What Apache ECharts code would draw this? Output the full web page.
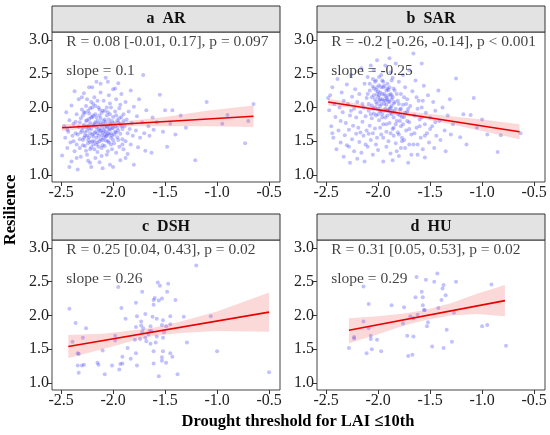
<!DOCTYPE html>
<html>
<head>
<meta charset="utf-8">
<script src="https://cdn.jsdelivr.net/npm/echarts@6/dist/echarts.min.js"></script>
<style>
  html, body { margin: 0; padding: 0; background: #fff; }
  #chart { width: 550px; height: 435px; }
</style>
</head>
<body>
<div id="chart"></div>
<script>
// 面板标题与统计标注
const panelNames = ['a  AR', 'b  SAR', 'c  DSH', 'd  HU'];
const statLabels = [
  'R = 0.08 [-0.01, 0.17], p = 0.097',
  'R = -0.2 [-0.26, -0.14], p < 0.001',
  'R = 0.25 [0.04, 0.43], p = 0.02',
  'R = 0.31 [0.05, 0.53], p = 0.02'
];
const slopeLabels = ['slope = 0.1', 'slope = -0.25', 'slope = 0.26', 'slope = 0.29'];
const xTicks = [-2.5, -2, -1.5, -1, -0.5];
const yTicks = [1, 1.5, 2, 2.5, 3];

// 散点 [干旱阈值, 恢复力]
const pointsAR = [
  [-2.49,1.29],[-2.47,1.72],[-2.46,1.55],[-2.45,1.93],[-2.44,1.40],[-2.43,1.64],[-2.42,1.81],[-2.41,1.48],[-2.40,1.20],[-2.40,2.03],[-2.42,1.12],[-2.44,1.67],
  [-2.39,1.58],[-2.38,1.76],[-2.37,1.35],[-2.37,2.24],[-2.36,1.62],[-2.35,1.90],[-2.35,1.45],[-2.34,1.08],[-2.33,1.71],[-2.33,2.12],[-2.32,1.53],[-2.31,1.84],[-2.31,1.27],[-2.30,1.66],[-2.30,1.97],[-2.32,1.40],[-2.36,1.79],[-2.38,1.50],
  [-2.29,1.52],[-2.29,1.88],[-2.28,1.74],[-2.28,2.21],[-2.27,1.43],[-2.27,1.63],[-2.26,2.02],[-2.26,1.36],[-2.25,1.58],[-2.25,1.81],[-2.24,1.21],[-2.24,1.95],[-2.23,1.69],[-2.23,2.30],[-2.22,1.49],[-2.22,1.77],[-2.21,1.12],[-2.21,2.08],[-2.20,1.60],[-2.20,1.86],[-2.28,1.55],[-2.26,1.71],[-2.24,1.52],[-2.22,1.99],[-2.21,1.41],[-2.27,1.92],[-2.25,1.30],[-2.23,1.83],
  [-2.19,1.73],[-2.19,1.45],[-2.18,2.15],[-2.18,1.62],[-2.17,1.90],[-2.17,1.25],[-2.16,1.55],[-2.16,2.38],[-2.15,1.80],[-2.15,1.34],[-2.14,1.68],[-2.14,2.00],[-2.13,1.50],[-2.13,1.19],[-2.12,1.84],[-2.12,2.22],[-2.11,1.59],[-2.11,1.40],[-2.10,1.75],[-2.10,1.95],[-2.18,1.38],[-2.16,1.70],[-2.14,1.58],[-2.12,1.65],[-2.19,2.05],[-2.15,1.48],[-2.13,1.88],[-2.11,1.28],[-2.17,1.78],[-2.10,1.52],
  [-2.09,1.66],[-2.09,2.10],[-2.08,1.43],[-2.08,1.82],[-2.07,1.57],[-2.07,2.44],[-2.06,1.71],[-2.06,1.30],[-2.05,1.93],[-2.05,1.62],[-2.04,1.48],[-2.04,2.18],[-2.03,1.77],[-2.03,1.15],[-2.02,1.55],[-2.02,2.00],[-2.01,1.69],[-2.01,1.38],[-2.00,1.86],[-2.00,2.27],[-2.08,1.60],[-2.06,1.88],[-2.04,1.67],[-2.02,1.74],[-2.05,1.35],[-2.03,2.06],[-2.07,1.51],
  [-1.99,1.60],[-1.99,1.47],[-1.98,1.94],[-1.98,1.72],[-1.97,2.12],[-1.97,1.33],[-1.96,1.81],[-1.96,1.56],[-1.95,2.36],[-1.95,1.66],[-1.94,1.42],[-1.94,1.99],[-1.93,1.75],[-1.93,1.22],[-1.92,1.86],[-1.92,2.20],[-1.91,1.53],[-1.91,1.68],[-1.90,1.90],[-1.90,1.38],[-1.97,1.63],[-1.95,1.78],[-1.93,2.04],
  [-1.89,1.72],[-1.88,1.50],[-1.88,2.08],[-1.87,1.82],[-1.86,1.62],[-1.86,1.31],[-1.85,1.94],[-1.84,1.68],[-1.83,2.25],[-1.83,1.45],[-1.82,1.77],[-1.81,1.58],[-1.80,1.15],[-1.80,2.01],
  [-1.78,1.66],[-1.77,1.87],[-1.76,1.41],[-1.75,2.12],[-1.74,1.55],[-1.72,1.78],[-1.71,2.48],[-1.70,1.62],[-1.69,1.36],[-1.68,1.96],[-1.66,1.72],[-1.65,1.58],[-1.63,1.33],[-1.62,1.85],[-1.61,1.67],
  [-1.58,1.78],[-1.55,2.19],[-1.52,1.64],[-1.50,1.96],[-1.48,1.42],[-1.45,1.76],[-1.43,1.96],[-1.40,1.60],[-1.35,1.88],[-1.21,1.22],[-1.10,2.08],[-0.90,1.89],[-0.95,1.76],[-0.73,1.47],[-0.70,1.80],[-0.65,2.05],[-1.30,1.70],
  [-2.34,1.60],[-2.32,1.78],[-2.31,1.63],[-2.29,1.70],[-2.29,1.44],[-2.28,1.93],[-2.27,1.58],[-2.26,1.80],[-2.25,1.66],[-2.25,2.12],[-2.24,1.47],[-2.24,1.72],[-2.23,1.56],[-2.23,1.91],[-2.22,1.62],[-2.22,1.38],[-2.21,1.85],[-2.21,1.68],[-2.20,1.50],[-2.20,2.00],
  [-2.19,1.57],[-2.19,1.88],[-2.18,1.76],[-2.18,1.50],[-2.17,1.64],[-2.17,2.02],[-2.16,1.45],[-2.16,1.85],[-2.15,1.62],[-2.15,2.10],[-2.14,1.75],[-2.14,1.42],[-2.13,1.66],[-2.13,1.97],[-2.12,1.53],[-2.12,1.78],[-2.11,1.70],[-2.11,1.92],[-2.10,1.63],[-2.10,1.44],
  [-2.09,1.55],[-2.09,1.80],[-2.08,1.70],[-2.08,1.95],[-2.07,1.64],[-2.07,1.78],[-2.06,1.58],[-2.06,2.00],[-2.05,1.72],[-2.05,1.50],[-2.04,1.82],[-2.04,1.60],[-2.03,1.68],[-2.03,1.90],[-2.02,1.62],[-2.02,1.45],[-2.01,1.80],[-2.01,1.58],[-2.00,1.70],[-2.00,1.52],
  [-1.99,1.77],[-1.98,1.64],[-1.97,1.88],[-1.96,1.70],[-1.95,1.52],[-1.94,1.84],[-1.93,1.61],[-1.92,1.72],[-1.91,1.45],[-1.90,1.80],
  [-2.20,2.30],[-2.12,2.35],[-2.05,2.38],[-1.98,2.28],[-2.30,2.15],[-2.10,1.10],[-2.00,1.12],[-2.22,1.18],[-1.88,1.25],[-2.35,1.25]
];
const pointsSAR = [
  [-2.48,2.14],[-2.47,1.96],[-2.46,2.18],[-2.45,1.72],[-2.44,2.30],[-2.43,1.55],[-2.42,2.05],[-2.41,1.86],[-2.40,1.38],[-2.39,2.42],[-2.38,1.66],[-2.37,2.00],[-2.36,1.48],[-2.35,2.22],[-2.36,1.80],[-2.44,1.62],
  [-2.34,1.93],[-2.33,1.27],[-2.33,2.10],[-2.32,1.59],[-2.31,1.77],[-2.30,2.34],[-2.30,1.44],[-2.29,2.05],[-2.28,1.67],[-2.27,1.18],[-2.27,1.88],[-2.26,2.48],[-2.25,1.53],[-2.25,2.16],[-2.24,1.73],[-2.23,1.35],[-2.23,1.98],[-2.22,2.27],[-2.21,1.61],[-2.21,1.85],[-2.20,1.24],[-2.20,2.08],[-2.28,1.42],[-2.26,1.95],
  [-2.19,1.70],[-2.18,2.20],[-2.18,1.49],[-2.17,1.93],[-2.16,2.58],[-2.16,1.33],[-2.15,1.79],[-2.15,2.05],[-2.14,1.58],[-2.13,2.35],[-2.13,1.20],[-2.12,1.87],[-2.11,1.66],[-2.11,2.14],[-2.10,1.42],[-2.10,2.45],[-2.09,1.95],[-2.08,1.73],[-2.08,2.25],[-2.07,1.52],[-2.07,2.62],[-2.06,1.84],[-2.06,2.03],[-2.05,1.30],[-2.05,2.31],[-2.17,1.63],[-2.14,2.00],[-2.12,1.45],[-2.09,1.61],
  [-2.04,2.18],[-2.04,1.91],[-2.03,2.38],[-2.03,1.69],[-2.02,2.08],[-2.02,2.26],[-2.01,1.55],[-2.01,2.70],[-2.00,1.98],[-2.00,2.15],[-2.00,1.37],[-1.99,2.33],[-1.99,1.81],[-1.98,2.22],[-1.98,2.02],[-1.97,1.60],[-1.97,2.48],[-1.96,1.90],[-1.96,2.12],[-1.95,1.75],[-1.95,2.30],[-1.95,1.20],[-2.03,2.00],[-2.01,2.20],[-1.99,2.10],[-1.97,1.95],[-1.96,2.40],[-2.02,1.45],[-1.98,1.70],[-2.04,2.55],
  [-1.94,2.05],[-1.94,2.20],[-1.93,1.85],[-1.93,2.62],[-1.92,1.64],[-1.92,2.14],[-1.91,2.35],[-1.91,1.95],[-1.90,1.50],[-1.90,2.09],[-1.90,2.26],[-1.89,1.77],[-1.89,2.73],[-1.88,2.00],[-1.88,1.32],[-1.87,2.18],[-1.87,1.90],[-1.86,2.44],[-1.86,1.68],[-1.85,2.06],[-1.85,1.58],[-1.93,2.10],[-1.91,2.28],[-1.89,1.98],[-1.87,2.12],[-1.92,1.42],[-1.88,2.52],[-1.86,1.22],
  [-1.84,1.92],[-1.84,2.25],[-1.83,1.47],[-1.83,2.65],[-1.82,1.80],[-1.81,2.10],[-1.81,1.63],[-1.80,2.38],[-1.80,1.28],[-1.79,1.97],[-1.78,1.72],[-1.78,2.20],[-1.77,1.55],[-1.76,2.04],[-1.76,2.48],[-1.75,1.86],[-1.74,1.40],[-1.74,2.30],[-1.73,1.66],[-1.72,1.94],[-1.72,2.12],[-1.71,1.18],[-1.70,1.78],[-1.70,2.55],[-1.82,1.35],[-1.79,1.88],[-1.77,1.50],
  [-1.69,2.02],[-1.68,1.60],[-1.67,2.24],[-1.66,1.45],[-1.65,1.88],[-1.64,2.40],[-1.63,1.70],[-1.62,1.30],[-1.61,2.10],[-1.60,1.82],[-1.59,1.55],[-1.58,2.00],[-1.57,1.38],[-1.56,2.32],[-1.55,1.75],[-1.54,1.92],[-1.53,1.62],[-1.52,2.18],[-1.51,1.48],[-1.50,1.85],[-1.66,2.80],[-1.58,2.65],[-1.62,1.98],[-1.55,1.26],
  [-1.48,1.72],[-1.47,2.08],[-1.46,1.40],[-1.45,1.95],[-1.44,1.58],[-1.42,2.25],[-1.41,1.80],[-1.40,1.52],[-1.38,2.00],[-1.36,1.66],[-1.35,1.35],[-1.33,1.88],[-1.31,2.12],[-1.30,1.60],
  [-1.28,1.75],[-1.25,2.43],[-1.21,1.56],[-1.18,1.90],[-1.15,1.45],[-1.11,1.89],[-1.08,2.14],[-1.05,1.70],[-1.00,1.82],[-0.95,1.60],[-0.85,1.34],[-0.82,1.59],[-0.63,1.62],
  [-2.10,2.20],[-2.09,2.05],[-2.08,2.35],[-2.07,1.90],[-2.06,2.15],[-2.05,2.42],[-2.05,1.98],[-2.04,2.28],[-2.03,2.12],[-2.02,1.88],[-2.02,2.40],[-2.01,2.05],[-2.01,2.30],[-2.00,2.24],[-2.00,1.90],[-1.99,2.18],[-1.99,2.45],[-1.98,1.94],[-1.98,2.12],[-1.97,2.30],
  [-1.97,2.05],[-1.96,2.20],[-1.96,1.85],[-1.95,2.10],[-1.95,2.38],[-1.94,1.95],[-1.94,2.32],[-1.93,2.17],[-1.93,1.98],[-1.92,2.25],[-1.92,2.04],[-1.91,2.12],[-1.91,1.88],[-1.90,2.18],[-1.90,1.96],[-1.89,2.30],[-1.89,2.08],[-1.88,1.92],[-1.88,2.20],[-1.87,2.02],
  [-1.87,2.40],[-1.86,1.95],[-1.86,2.15],[-1.85,2.28],[-1.85,1.85],[-1.84,2.08],[-1.83,1.98],[-1.82,2.20],[-1.81,1.90],[-1.80,2.05],[-1.79,1.80],[-1.78,1.98],[-1.77,1.86],[-1.76,1.75],[-1.75,2.15],[-1.74,1.92],[-1.73,2.05],[-1.72,1.80],[-1.71,1.98],[-1.70,1.68],
  [-1.85,1.70],[-1.80,1.60],[-1.75,1.52],[-1.70,1.45],[-1.65,1.62],[-1.60,1.72],[-1.88,1.62],[-1.95,1.55],[-2.05,1.62],[-1.92,1.75],[-1.83,1.75],[-1.78,1.40],[-1.68,1.30],[-1.62,1.45],[-1.58,1.85],[-1.55,1.58],[-1.50,1.68],[-1.45,1.78],[-1.63,2.15],[-1.57,2.10]
];
const pointsDSH = [
  [-2.42,2.10],[-2.36,1.89],[-2.39,1.61],[-2.34,1.44],[-2.33,1.43],[-2.34,1.26],[-2.30,1.26],[-2.28,1.27],[-2.33,1.15],[-2.29,1.67],
  [-2.15,1.30],[-2.14,1.27],[-2.10,1.48],[-2.08,1.13],[-2.01,1.26],[-1.98,1.70],[-1.98,1.63],[-1.95,2.42],[-1.92,2.11],[-1.88,1.95],
  [-1.91,1.39],[-1.94,1.20],[-1.93,1.28],[-1.91,1.29],[-1.83,1.36],[-1.78,1.44],[-1.77,1.26],[-1.79,1.64],[-1.78,1.83],[-1.77,1.99],
  [-1.78,2.19],[-1.72,2.35],[-1.74,1.65],[-1.73,1.91],[-1.73,1.85],[-1.72,1.76],[-1.71,1.81],[-1.66,1.72],[-1.69,1.67],[-1.68,1.62],
  [-1.64,1.84],[-1.62,1.98],[-1.61,2.16],[-1.61,2.23],[-1.60,2.26],[-1.57,2.49],[-1.55,2.44],[-1.53,2.25],[-1.56,2.22],[-1.61,1.47],
  [-1.61,1.29],[-1.56,1.10],[-1.53,1.38],[-1.52,1.47],[-1.53,1.33],[-1.49,1.30],[-1.52,1.67],[-1.51,1.75],[-1.49,1.84],[-1.52,1.93],
  [-1.53,1.86],[-1.64,1.58],[-1.59,1.60],[-1.58,1.69],[-1.63,1.77],[-1.65,1.77],[-1.48,2.35],[-1.47,2.47],[-1.45,1.99],[-1.45,1.87],
  [-1.45,1.44],[-1.43,1.39],[-1.40,2.23],[-1.38,1.13],[-1.32,1.98],[-1.29,1.60],[-1.20,2.74],[-1.06,1.99],[-1.00,1.47],[-0.50,1.16],
  [-2.26,1.81],[-1.86,1.52],[-1.69,2.02],[-1.58,1.95]
];
const pointsHU = [
  [-2.28,1.52],[-2.14,2.43],[-2.14,1.91],[-2.23,1.68],[-2.23,1.66],[-2.11,1.44],[-2.09,2.17],[-2.07,1.70],[-2.07,1.65],[-2.06,1.50],
  [-2.09,1.81],[-2.01,1.64],[-1.97,1.47],[-1.87,2.15],[-1.75,2.12],[-1.76,1.88],[-1.71,1.40],[-1.67,1.42],[-1.72,1.70],[-1.66,1.69],
  [-1.69,1.99],[-1.66,1.96],[-1.64,2.27],[-1.62,2.01],[-1.63,2.57],[-1.58,2.35],[-1.57,2.27],[-1.57,2.15],[-1.56,2.08],[-1.55,2.08],
  [-1.53,1.84],[-1.54,2.53],[-1.52,1.90],[-1.48,1.54],[-1.46,2.50],[-1.43,2.62],[-1.38,2.40],[-1.39,2.23],[-1.37,2.45],[-1.35,2.30],
  [-1.37,1.52],[-1.34,1.79],[-1.29,1.61],[-1.27,2.04],[-1.25,2.50],[-1.00,1.84],[-0.95,1.86],[-0.91,2.46],[-0.77,1.55],[-1.42,2.11]
];
const allPoints = [pointsAR, pointsSAR, pointsDSH, pointsHU];

// 拟合线端点与置信带 [x, 下限, 上限]
const fitAR = [[-2.49, 1.70], [-0.65, 1.87]];
const fitSAR = [[-2.48, 2.08], [-0.64, 1.64]];
const fitDSH = [[-2.43, 1.54], [-0.50, 2.05]];
const fitHU = [[-2.28, 1.78], [-0.78, 2.22]];
const allFits = [fitAR, fitSAR, fitDSH, fitHU];

const bandAR = [[-2.49,1.65,1.75],[-2.3,1.68,1.76],[-2.1,1.71,1.77],[-1.8,1.72,1.81],[-1.5,1.72,1.86],[-1.1,1.72,1.95],[-0.65,1.71,2.03]];
const bandSAR = [[-2.48,2.03,2.13],[-2.2,1.99,2.06],[-1.9,1.92,1.98],[-1.6,1.84,1.92],[-1.3,1.75,1.87],[-1.0,1.65,1.82],[-0.64,1.53,1.75]];
const bandDSH = [[-2.43,1.37,1.71],[-2.1,1.50,1.73],[-1.8,1.63,1.78],[-1.6,1.70,1.82],[-1.35,1.74,1.91],[-1.0,1.77,2.06],[-0.5,1.76,2.34]];
const bandHU = [[-2.28,1.59,1.96],[-2.0,1.72,1.99],[-1.75,1.85,2.03],[-1.55,1.93,2.08],[-1.3,2.00,2.18],[-1.05,2.02,2.32],[-0.78,1.99,2.45]];
const allBands = [bandAR, bandSAR, bandDSH, bandHU];

const FONT = 'Liberation Serif';
const grids = [
  { left: 52, top: 32, width: 228, height: 150 },
  { left: 317, top: 32, width: 228, height: 150 },
  { left: 52, top: 240, width: 228, height: 150 },
  { left: 317, top: 240, width: 228, height: 150 }
];
const stripH = 26;

const chart = echarts.init(document.getElementById('chart'), null, { renderer: 'canvas' });

const xAxes = grids.map((g, i) => ({
  type: 'value', gridIndex: i, min: -2.587, max: -0.395,
  splitLine: { show: false },
  axisLine: { show: false },
  axisTick: { show: true, length: 4, customValues: xTicks, lineStyle: { color: '#333' } },
  axisLabel: {
    customValues: xTicks, margin: 3, fontFamily: FONT, fontSize: 16, color: '#222',
    formatter: v => v.toFixed(1)
  }
}));
const yAxes = grids.map((g, i) => ({
  type: 'value', gridIndex: i, min: 0.896, max: 3.118,
  splitLine: { show: false },
  axisLine: { show: false },
  axisTick: { show: true, length: 4, customValues: yTicks, lineStyle: { color: '#333' } },
  axisLabel: {
    customValues: yTicks, margin: 3, fontFamily: FONT, fontSize: 16, color: '#222',
    formatter: v => v.toFixed(1)
  }
}));

// 置信带：用坐标轴换算后画多边形
function bandRender(band) {
  return function (params, api) {
    if (params.dataIndex !== 0) return null;
    const upper = band.map(d => api.coord([d[0], d[2]]));
    const lower = band.slice().reverse().map(d => api.coord([d[0], d[1]]));
    return {
      type: 'polygon',
      shape: { points: upper.concat(lower) },
      style: { fill: 'rgba(235,80,80,0.22)' }
    };
  };
}

const series = [];
grids.forEach((g, i) => {
  series.push({
    type: 'scatter', xAxisIndex: i, yAxisIndex: i, data: allPoints[i],
    symbolSize: 4, itemStyle: { color: '#3333ff', opacity: 0.3 }, silent: true, z: 2
  });
  series.push({
    type: 'custom', xAxisIndex: i, yAxisIndex: i, data: allBands[i],
    encode: { x: 0, y: [1, 2] }, renderItem: bandRender(allBands[i]), silent: true, z: 3
  });
  series.push({
    type: 'line', xAxisIndex: i, yAxisIndex: i, data: allFits[i],
    symbol: 'none', lineStyle: { color: '#e60000', width: 1.6 }, silent: true, z: 4
  });
  series.push({
    type: 'scatter', xAxisIndex: i, yAxisIndex: i,
    data: [[-2.45, 2.97, statLabels[i]], [-2.45, 2.54, slopeLabels[i]]],
    symbolSize: 0, silent: true, z: 5,
    label: {
      show: true, position: 'right', distance: 0, fontFamily: FONT, fontSize: 15.5, color: '#111',
      formatter: p => p.value[2]
    }
  });
});

const graphic = [];
grids.forEach((g, i) => {
  graphic.push({
    type: 'rect', z: 10,
    shape: { x: g.left, y: g.top - stripH, width: g.width, height: stripH },
    style: { fill: '#e3e3e3', stroke: '#333', lineWidth: 1 }
  });
  graphic.push({
    type: 'text', z: 11, x: g.left + g.width / 2, y: g.top - stripH / 2,
    style: {
      text: panelNames[i], fontFamily: FONT, fontSize: 16, fontWeight: 'bold',
      fill: '#111', align: 'center', verticalAlign: 'middle'
    }
  });
});
graphic.push({
  type: 'text', x: 11, y: 210, rotation: Math.PI / 2,
  style: {
    text: 'Resilience', fontFamily: FONT, fontSize: 16.5, fontWeight: 'bold',
    fill: '#000', align: 'center', verticalAlign: 'middle'
  }
});
graphic.push({
  type: 'text', x: 298, y: 422,
  style: {
    text: 'Drought threshold for LAI \u226410th', fontFamily: FONT, fontSize: 16.5, fontWeight: 'bold',
    fill: '#000', align: 'center', verticalAlign: 'middle'
  }
});

chart.setOption({
  animation: false,
  backgroundColor: '#fff',
  grid: grids.map(g => Object.assign({ show: true, borderColor: '#444', borderWidth: 1, backgroundColor: '#fff' }, g)),
  xAxis: xAxes,
  yAxis: yAxes,
  series: series,
  graphic: graphic
});
</script>
</body>
</html>
